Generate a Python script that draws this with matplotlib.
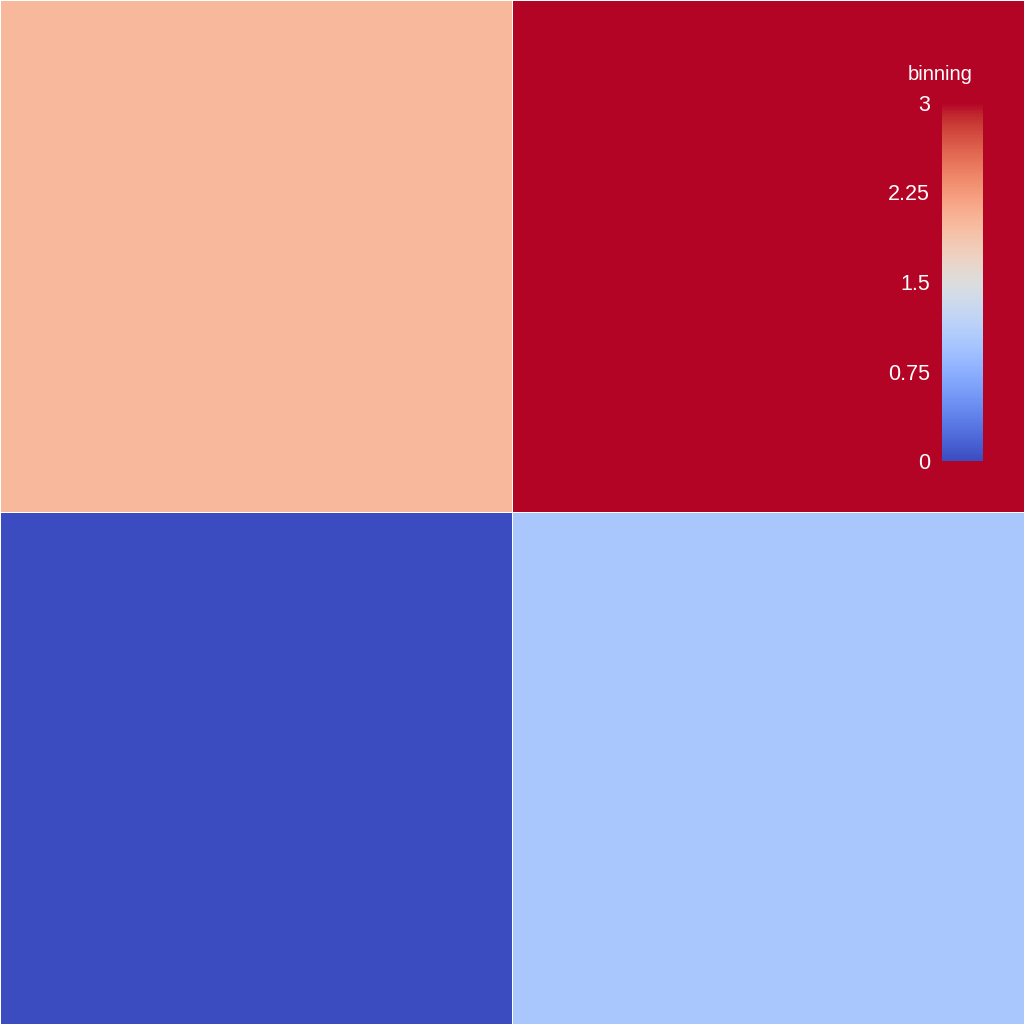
import numpy as np
import matplotlib
matplotlib.use("Agg")
import matplotlib.pyplot as plt

plt.rcParams['font.family'] = ['Liberation Sans', 'DejaVu Sans']

# data: rows top to bottom, columns left to right
rows = ["r0", "r1"]
cols = ["c0", "c1"]
values = [[2, 3],
          [0, 1]]
cbar_ticks = [0, 0.75, 1.5, 2.25, 3]
cbar_title = "binning"

W = 1024
fig = plt.figure(figsize=(W / 100, W / 100), dpi=100)
ax = fig.add_axes([0, 0, 1, 1])
Z = np.array(values, dtype=float)[::-1]
mesh = ax.pcolormesh(np.arange(len(cols) + 1), np.arange(len(rows) + 1), Z,
                     cmap='coolwarm', vmin=0, vmax=3,
                     edgecolor='white', linewidth=0.6)
ax.set_xlim(0, len(cols))
ax.set_ylim(0, len(rows))
ax.set_axis_off()

cax = fig.add_axes([942 / W, (W - 461) / W, 41 / W, 358 / W])
cb = fig.colorbar(mesh, cax=cax, ticks=cbar_ticks)
cb.outline.set_visible(False)
cax.yaxis.set_ticks_position('left')
cax.yaxis.set_label_position('left')
cax.tick_params(length=0, colors='white', labelsize=15.5, pad=8.5)
cax.set_yticklabels([f"{t:g}" for t in cbar_ticks])
for lbl in cax.get_yticklabels():
    lbl.set_va('center_baseline')
fig.text(940 / W, (W - 75) / W, cbar_title, color='white', fontsize=14.5,
         ha='center', va='center')

fig.savefig("out.png", dpi=100)
